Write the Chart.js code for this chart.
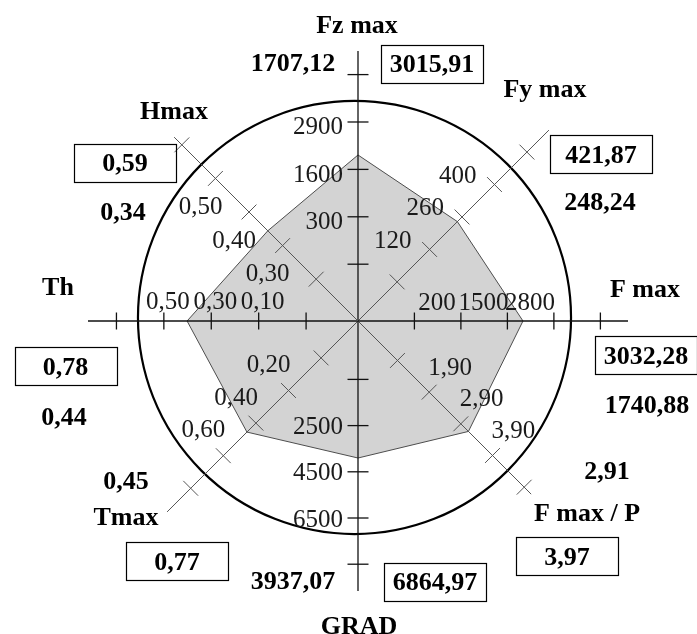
<!DOCTYPE html>
<html><head><meta charset="utf-8">
<script src="https://cdn.jsdelivr.net/npm/chart.js@4.4.1/dist/chart.umd.min.js"></script>
<style>html,body{margin:0;padding:0;background:#fff}#wrap{width:697px;height:634px;position:relative}</style>
</head><body><div id="wrap"><canvas id="c"></canvas></div>
<script>
// ---------- DATA ----------
const axisNames   = ['Fz max', 'Fy max', 'F max', 'F max / P', 'GRAD', 'Tmax', 'Th', 'Hmax'];
const valueLabels = ['1707,12', '248,24', '1740,88', '2,91', '3937,07', '0,45', '0,44', '0,34'];
const maxLabels   = ['3015,91', '421,87', '3032,28', '3,97', '6864,97', '0,77', '0,78', '0,59'];
// profile (grey polygon), in that axis' units
const profileValues = [1995, 240, 1936, 3.14, 3903, 0.455, 0.402, 0.344];

// tick values and tick labels of every axis
const fzTicks    = [-1000, 300, 1600, 2900, 4200];
const fzLabels   = ['', '300', '1600', '2900', ''];
const fyTicks    = [-20, 120, 260, 400, 540];
const fyLabels   = ['', '120', '260', '400', ''];
const fmaxTicks  = [-1100, 200, 1500, 2800, 4100];
const fmaxLabels = ['', '200', '1500', '2800', ''];
const fmpTicks   = [0.9, 1.9, 2.9, 3.9, 4.9];
const fmpLabels  = ['', '1,90', '2,90', '3,90', ''];
const gradTicks  = [500, 2500, 4500, 6500, 8500];
const gradLabels = ['', '2500', '4500', '6500', ''];
const tmaxTicks  = [0, 0.2, 0.4, 0.6, 0.8];
const tmaxLabels = ['', '0,20', '0,40', '0,60', ''];
const thTicks    = [-0.1, 0.1, 0.3, 0.5, 0.7];
const thLabels   = ['', '0,10', '0,30', '0,50', ''];
const hmaxTicks  = [0.2, 0.3, 0.4, 0.5, 0.6];
const hmaxLabels = ['', '0,30', '0,40', '0,50', ''];

// per-axis scale range (value at centre, value at axis end)
const axisMin = [-2558, -188.7, -2677, -0.346, -2028, -0.2265, -0.319, 0.0754];
const axisMax = [4847, 634.9, 4872, 5.681, 9660, 0.945, 0.820, 0.644];

// ---------- LAYOUT ----------
const tickSets  = [fzTicks, fyTicks, fmaxTicks, fmpTicks, gradTicks, tmaxTicks, thTicks, hmaxTicks];
const labelSets = [fzLabels, fyLabels, fmaxLabels, fmpLabels, gradLabels, tmaxLabels, thLabels, hmaxLabels];
const L = {
  axisLen: [1, 1, 1, 0.907, 1, 1, 1, 0.963],
  tickHalf: [10.5, 10.5, 8.5, 10.5, 10.5, 10.5, 8.5, 10.5],
  tickLab: [['right', -15, 4], ['right', -18, -10], ['center', -24, -20], ['left', -1, -26],
            ['right', -15, 0], ['right', 2, -27], ['center', 4, -21], ['right', 7, 27]],
  namePos: [[-1, -297], [187, -233], [287, -33], [229, 191], [1, 304], [-232, 195], [-300, -35], [-184, -211]],
  maxPos:  [[74, -257.5], [243, -167], [288, 34], [209, 235], [77, 260.5], [-181, 240], [-292.5, 45], [-233, -158.5]],
  valPos:  [[-65, -259], [242, -120], [289, 83], [249, 149], [-65, 259], [-232, 159], [-294, 95], [-235, -110]],
  boxW: 102, boxH: 38,
  circleR: 0.802, circleDx: -3.5, circleDy: -3.5
};
const FONT = "'Liberation Serif', 'Times New Roman', serif";

function norm(i, v) { return (v - axisMin[i]) / (axisMax[i] - axisMin[i]); }

function drawText(c, str, x, cy, size, bold, align) {
  c.font = (bold ? 'bold ' : '') + size + 'px ' + FONT;
  c.textAlign = align;
  c.textBaseline = 'alphabetic';
  c.fillText(str, x, cy + 0.34 * size);
}

const decor = {
  id: 'decor',
  beforeDatasetsDraw(chart) {
    const s = chart.scales.r, c = chart.ctx;
    c.save();
    c.beginPath();
    c.arc(s.xCenter + L.circleDx, s.yCenter + L.circleDy, s.getDistanceFromCenterForValue(L.circleR), 0, Math.PI * 2);
    c.lineWidth = 2.2; c.strokeStyle = '#000'; c.stroke();
    c.restore();
  },
  afterDatasetsDraw(chart) {
    const s = chart.scales.r, c = chart.ctx;
    const cx = s.xCenter, cy = s.yCenter;
    c.save();
    for (let i = 0; i < axisNames.length; i++) {
      const main = i % 2 === 0;
      const col = main ? '#111' : '#555';
      c.strokeStyle = col;
      c.lineWidth = main ? 1.3 : 1;
      const end = s.getPointPosition(i, s.getDistanceFromCenterForValue(L.axisLen[i]));
      c.beginPath(); c.moveTo(cx, cy); c.lineTo(end.x, end.y); c.stroke();
      // ticks
      tickSets[i].forEach((v, k) => {
        const p = s.getPointPosition(i, s.getDistanceFromCenterForValue(norm(i, v)));
        const a = p.angle + Math.PI / 2, h = L.tickHalf[i];
        c.beginPath();
        c.moveTo(p.x - Math.cos(a) * h, p.y - Math.sin(a) * h);
        c.lineTo(p.x + Math.cos(a) * h, p.y + Math.sin(a) * h);
        c.stroke();
        const lab = labelSets[i][k];
        if (lab) {
          const t = L.tickLab[i];
          c.fillStyle = '#1a1a1a';
          drawText(c, lab, p.x + t[1], p.y + t[2], 25, false, t[0]);
        }
      });
    }
    // names, max boxes, values
    c.fillStyle = '#000';
    for (let i = 0; i < axisNames.length; i++) {
      drawText(c, axisNames[i], cx + L.namePos[i][0], cy + L.namePos[i][1], 26, true, 'center');
      const bx = cx + L.maxPos[i][0], by = cy + L.maxPos[i][1];
      c.lineWidth = 1.2; c.strokeStyle = '#000';
      c.strokeRect(Math.round(bx - L.boxW / 2) + 0.5, Math.round(by - L.boxH / 2) + 0.5, L.boxW, L.boxH);
      drawText(c, maxLabels[i], bx, by, 26, true, 'center');
      drawText(c, valueLabels[i], cx + L.valPos[i][0], cy + L.valPos[i][1], 26, true, 'center');
    }
    c.restore();
  }
};

new Chart(document.getElementById('c'), {
  type: 'radar',
  data: {
    labels: axisNames,
    datasets: [{
      data: profileValues.map((v, i) => norm(i, v)),
      backgroundColor: '#d3d3d3',
      borderColor: '#4d4d4d',
      borderWidth: 1,
      pointRadius: 0,
      fill: true,
      tension: 0
    }]
  },
  options: {
    responsive: true,
    maintainAspectRatio: false,
    animation: false,
    layout: { padding: { left: 88, right: 69, top: 51, bottom: 43 } },
    plugins: { legend: { display: false }, tooltip: { enabled: false } },
    scales: {
      r: {
        min: 0, max: 1,
        ticks: { display: false },
        grid: { display: false },
        angleLines: { display: false },
        pointLabels: { display: false },
        afterFit(scale) {
          const a = scale.chart.chartArea;
          if (a) {
            scale.xCenter = (a.left + a.right) / 2;
            scale.yCenter = (a.top + a.bottom) / 2;
            scale.drawingArea = Math.min(a.right - a.left, a.bottom - a.top) / 2;
          }
        }
      }
    }
  },
  plugins: [decor]
});
</script></body></html>
